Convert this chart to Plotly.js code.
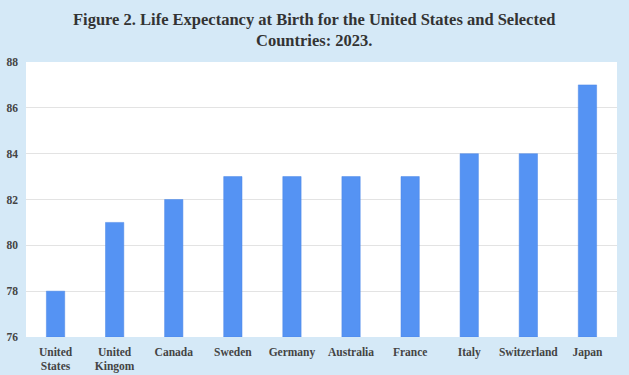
<!DOCTYPE html>
<html>
<head>
<meta charset="utf-8">
<script src="https://cdn.plot.ly/plotly-3.0.1.min.js"></script>
<style>html,body{margin:0;padding:0;background:#d5e9f7;}#chart{width:629px;height:375px;}</style>
</head>
<body>
<div id="chart"></div>
<script>
const countries = ["United<br>States", "United<br>Kingom", "Canada", "Sweden", "Germany", "Australia", "France", "Italy", "Switzerland", "Japan"];
const lifeExpectancy = [78, 81, 82, 83, 83, 83, 83, 84, 84, 87];
const yTicks = [76, 78, 80, 82, 84, 86, 88];
const axisBase = 76;

const trace = {
  type: "bar",
  x: countries,
  y: lifeExpectancy.map(v => v - axisBase),
  base: axisBase,
  marker: {color: "#5593f3", line: {color: "#4a86e6", width: 0.5}},
  width: 0.31,
  hoverinfo: "x+y"
};

const layout = {
  width: 629, height: 375,
  paper_bgcolor: "#d5e9f7",
  plot_bgcolor: "#ffffff",
  margin: {l: 26, r: 12, t: 62, b: 38},
  annotations: [{
    text: "<b>Figure 2. Life Expectancy at Birth for the United States and Selected<br>Countries: 2023.</b>",
    font: {family: "Liberation Serif, Times New Roman, serif", size: 16.5, color: "#333333"},
    xref: "paper", yref: "paper", x: 0.487, y: 1.115, xanchor: "center", yanchor: "middle",
    showarrow: false, align: "center"
  }],
  xaxis: {
    type: "category",
    tickfont: {family: "Liberation Serif, serif", size: 11.5, color: "#444444", weight: "bold"},
    showgrid: false, zeroline: false, showline: false, ticks: "",
    ticklabelstandoff: 6,
    fixedrange: true
  },
  yaxis: {
    range: [76, 88],
    tickvals: yTicks,
    ticktext: yTicks.map(String),
    tickfont: {family: "Liberation Serif, serif", size: 11.5, color: "#444444", weight: "bold"},
    showgrid: true, gridcolor: "#e3e3e3", gridwidth: 1,
    zeroline: false, showline: false, ticks: "",
    ticklabelstandoff: 7,
    fixedrange: true
  },
  showlegend: false
};

Plotly.newPlot("chart", [trace], layout, {displayModeBar: false, staticPlot: true});
</script>
</body>
</html>
